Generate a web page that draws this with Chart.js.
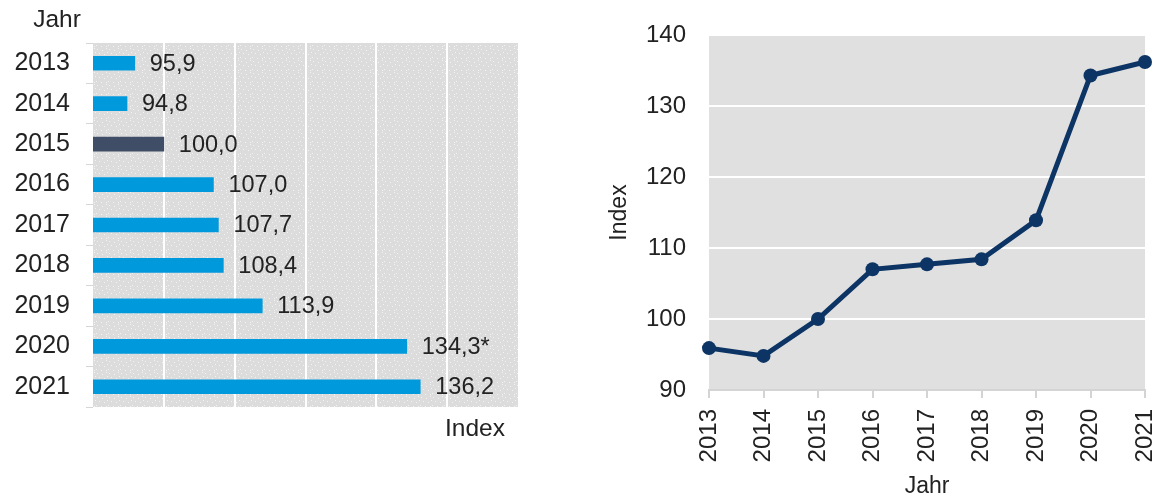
<!DOCTYPE html>
<html>
<head>
<meta charset="utf-8">
<script src="https://cdn.jsdelivr.net/npm/chart.js@4.4.1/dist/chart.umd.min.js"></script>
<style>
  html, body { margin: 0; padding: 0; background: #ffffff; }
  #wrap { position: relative; width: 1158px; height: 502px; overflow: hidden; }
  #barChart { position: absolute; left: 0; top: 0; }
  #lineChart { position: absolute; left: 560px; top: 0; }
</style>
</head>
<body>
<div id="wrap">
  <canvas id="barChart" width="560" height="502"></canvas>
  <canvas id="lineChart" width="598" height="502"></canvas>
</div>
<script>
// Price index by year (2015 = 100)
const years = ['2013', '2014', '2015', '2016', '2017', '2018', '2019', '2020', '2021'];
const indexValues = [95.9, 94.8, 100.0, 107.0, 107.7, 108.4, 113.9, 134.3, 136.2];
const footnotes = ['', '', '', '', '', '', '', '*', ''];
const baseYear = '2015';
const barAxisRange = [90, 150];
const lineAxisRange = [90, 140];
const axisStep = 10;
const axisTitleX = 'Jahr';
const axisTitleY = 'Index';

const FONT = "'Liberation Sans', Arial, Helvetica, sans-serif";
const TEXT = '#222222';
const BLUE = '#0099dc';
const SLATE = '#3f4e66';
const NAVY = '#0c3464';

const fmt = v => v.toFixed(1).replace('.', ',');

// light grey tile with scattered white dots for the bar chart background
function dottedPattern(ctx) {
  const tile = document.createElement('canvas');
  tile.width = 12; tile.height = 12;
  const t = tile.getContext('2d');
  t.fillStyle = '#dcdcdc';
  t.fillRect(0, 0, 12, 12);
  t.fillStyle = '#f3f3f3';
  const dots = [[1, 1], [6, 2], [10, 0], [3, 5], [8, 6], [0, 9], [5, 10], [10, 10], [11, 4]];
  dots.forEach(([x, y]) => t.fillRect(x, y, 1, 1));
  return ctx.createPattern(tile, 'repeat');
}

const dottedBackground = {
  id: 'dottedBackground',
  beforeDraw(chart) {
    const { ctx, chartArea: a } = chart;
    ctx.save();
    ctx.fillStyle = dottedPattern(ctx);
    ctx.fillRect(a.left, a.top, a.right - a.left, a.bottom - a.top);
    ctx.restore();
  }
};

const plainBackground = {
  id: 'plainBackground',
  beforeDraw(chart) {
    const { ctx, chartArea: a } = chart;
    ctx.save();
    ctx.fillStyle = '#e0e0e0';
    ctx.fillRect(a.left, a.top, a.right - a.left, a.bottom - a.top);
    ctx.restore();
  }
};

// value written just past the end of each bar
const barValueLabels = {
  id: 'barValueLabels',
  afterDatasetsDraw(chart) {
    const { ctx } = chart;
    const meta = chart.getDatasetMeta(0);
    ctx.save();
    ctx.font = '23.5px ' + FONT;
    ctx.fillStyle = TEXT;
    ctx.textAlign = 'left';
    ctx.textBaseline = 'middle';
    meta.data.forEach((bar, i) => {
      ctx.fillText(fmt(indexValues[i]) + footnotes[i], bar.x + 15, bar.y + 1);
    });
    ctx.restore();
  }
};

const barTitles = {
  id: 'barTitles',
  afterDraw(chart) {
    const { ctx, chartArea: a } = chart;
    ctx.save();
    ctx.font = '24.5px ' + FONT;
    ctx.fillStyle = TEXT;
    ctx.textBaseline = 'middle';
    ctx.textAlign = 'center';
    ctx.fillText(axisTitleX, a.left - 36, 20);
    ctx.textAlign = 'right';
    ctx.fillText(axisTitleY, a.right - 13, a.bottom + 22);
    ctx.restore();
  }
};

const lineTitles = {
  id: 'lineTitles',
  afterDraw(chart) {
    const { ctx, chartArea: a } = chart;
    ctx.save();
    ctx.font = '23px ' + FONT;
    ctx.fillStyle = TEXT;
    ctx.textAlign = 'center';
    ctx.textBaseline = 'middle';
    ctx.fillText(axisTitleX, (a.left + a.right) / 2, a.bottom + 97);
    ctx.translate(a.left - 89, (a.top + a.bottom) / 2);
    ctx.rotate(-Math.PI / 2);
    ctx.fillText(axisTitleY, 0, 0);
    ctx.restore();
  }
};

new Chart(document.getElementById('barChart'), {
  type: 'bar',
  data: {
    labels: years,
    datasets: [{
      data: indexValues,
      backgroundColor: years.map(y => (y === baseYear ? SLATE : BLUE)),
      barThickness: 14,
      borderWidth: 0
    }]
  },
  options: {
    indexAxis: 'y',
    responsive: false,
    animation: false,
    layout: { padding: { left: 0, top: 43, right: 42, bottom: 95 } },
    plugins: { legend: { display: false }, tooltip: { enabled: false } },
    scales: {
      x: {
        min: barAxisRange[0],
        max: barAxisRange[1],
        ticks: { display: false, stepSize: axisStep },
        grid: {
          drawTicks: false,
          lineWidth: 2,
          color: c => (c.tick && (c.tick.value === barAxisRange[0] || c.tick.value === barAxisRange[1]))
            ? 'rgba(0,0,0,0)' : '#ffffff'
        },
        border: { display: false },
        afterFit: s => { s.height = 0; }
      },
      y: {
        grid: { drawOnChartArea: false, tickLength: 7, color: '#d6d6d6', lineWidth: 1 },
        border: { display: false },
        ticks: { color: TEXT, font: { family: FONT, size: 25 }, padding: 16 },
        afterFit: s => { s.width = 93; }
      }
    }
  },
  plugins: [dottedBackground, barValueLabels, barTitles]
});

new Chart(document.getElementById('lineChart'), {
  type: 'line',
  data: {
    labels: years,
    datasets: [{
      data: indexValues,
      borderColor: NAVY,
      backgroundColor: NAVY,
      pointBackgroundColor: NAVY,
      pointBorderColor: NAVY,
      borderWidth: 5,
      pointRadius: 7,
      pointBorderWidth: 0,
      tension: 0,
      clip: false
    }]
  },
  options: {
    responsive: false,
    animation: false,
    layout: { padding: { left: 0, top: 35, right: 13, bottom: 0 } },
    plugins: { legend: { display: false }, tooltip: { enabled: false } },
    scales: {
      x: {
        grid: { drawOnChartArea: false, tickLength: 8, color: '#d4d4d4', lineWidth: 2 },
        border: { display: true, color: '#d4d4d4', width: 2 },
        ticks: { minRotation: 90, maxRotation: 90, color: TEXT, font: { family: FONT, size: 24 }, padding: 11 },
        afterFit: s => { s.height = 112; s.paddingLeft = 0; s.paddingRight = 0; }
      },
      y: {
        min: lineAxisRange[0],
        max: lineAxisRange[1],
        ticks: { stepSize: axisStep, color: TEXT, font: { family: FONT, size: 24 }, padding: 23 },
        grid: { color: '#ffffff', lineWidth: 2, drawTicks: false },
        border: { display: false },
        afterFit: s => { s.width = 149; s.paddingTop = 0; s.paddingBottom = 0; }
      }
    }
  },
  plugins: [plainBackground, lineTitles]
});
</script>
</body>
</html>
